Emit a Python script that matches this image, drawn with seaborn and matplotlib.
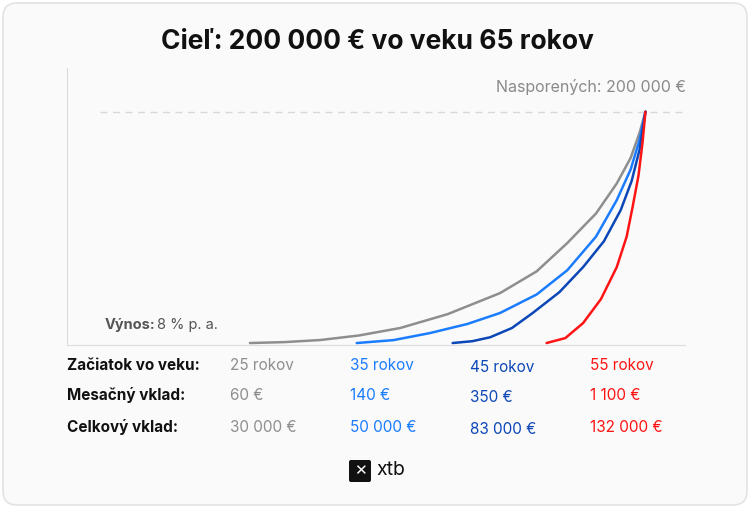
import matplotlib
matplotlib.use("Agg")
import matplotlib.pyplot as plt
from matplotlib.patches import FancyBboxPatch
import pandas as pd
import seaborn as sns

# values (thousand EUR saved by age)
gray_age = [25, 28.5, 32.1, 36, 40.2, 45, 50.3, 54, 57.1, 60, 62.1, 63.5, 64.4, 65]
gray_val = [0, 0.8, 2.6, 6.5, 13, 25, 43.2, 62, 86.5, 112, 138, 160, 181.6, 200]
lblue_age = [35.8, 39.5, 43.2, 47, 50.3, 54, 57.1, 60, 62.1, 63.5, 64.4, 65]
lblue_val = [0, 2.5, 8.6, 16.5, 26, 42, 63, 92, 123.6, 150, 175.5, 200]
dblue_age = [45.5, 47.5, 49.3, 51.5, 53.6, 56.3, 58.7, 60.8, 62.5, 63.6, 64.4, 65]
dblue_val = [0, 1.6, 5, 13, 26, 44, 65.7, 88, 115, 140, 167, 200]
red_age = [55, 56.9, 58.7, 60.5, 62.1, 63.1, 63.7, 64.3, 64.7, 65]
red_val = [0, 4.3, 17.3, 38, 65.7, 92, 117.6, 145, 173, 200]

colors = ["#8e8e8e", "#1a7cff", "#0c47b8", "#ff1414"]
row_labels = ["Začiatok vo veku:", "Mesačný vklad:", "Celkový vklad:"]
start_ages = ["25 rokov", "35 rokov", "45 rokov", "55 rokov"]
monthly = ["60 €", "140 €", "350 €", "1 100 €"]
total = ["30 000 €", "50 000 €", "83 000 €", "132 000 €"]

sns.set_style("white")
plt.rcParams["font.family"] = ["Inter", "DejaVu Sans"]

fig = plt.figure(figsize=(7.5, 5.08), dpi=100)
fig.patch.set_facecolor("white")
fig.patches.append(FancyBboxPatch((3, 3), 744, 502, boxstyle="round,pad=0,rounding_size=14",
                                  transform=None, facecolor="#fafafa", edgecolor="#e3e3e3",
                                  lw=1.2, zorder=-10))

ax = fig.add_axes([67 / 750, 163 / 508, 618 / 750, 277 / 508])
ax.set_facecolor("none")
series = [(gray_age, gray_val), (lblue_age, lblue_val), (dblue_age, dblue_val), (red_age, red_val)]
for (a, v), c in zip(series, colors):
    df = pd.DataFrame({"age": a, "value": v})
    sns.lineplot(data=df, x="age", y="value", color=c, lw=1.8, ax=ax)
ax.set_xlim(6.5, 69)
ax.set_ylim(-1.7, 237.8)
ax.axhline(200, xmin=(100 - 67) / 618, xmax=1, color="#d8d8d8", ls=(0, (5, 4)), lw=1, zorder=0)
ax.set_xticks([]); ax.set_yticks([])
ax.set_xlabel(""); ax.set_ylabel("")
for s in ["top", "right"]:
    ax.spines[s].set_visible(False)
for s in ["left", "bottom"]:
    ax.spines[s].set_color("#dcdcdc")

fig.text(377 / 750, 1 - 42 / 508, "Cieľ: 200 000 € vo veku 65 rokov", ha="center", va="center",
         fontsize=19, fontweight="bold", color="#111111")
fig.text(686 / 750, 1 - 87 / 508, "Nasporených: 200 000 €", ha="right", va="center",
         fontsize=11.5, color="#8a8a8a")
fig.text(105 / 750, 1 - 325 / 508, "Výnos:", ha="left", va="center", fontsize=10.5,
         fontweight="bold", color="#555555")
fig.text(157 / 750, 1 - 325 / 508, "8 % p. a.", ha="left", va="center", fontsize=10.5, color="#555555")

rows_y = [365, 395, 427]
cols_x = [230, 350, 470, 590]
for y, lab, vals in zip(rows_y, row_labels, [start_ages, monthly, total]):
    fig.text(67 / 750, 1 - y / 508, lab, ha="left", va="center", fontsize=11,
             fontweight="bold", color="#111111")
    for x, t, c in zip(cols_x, vals, colors):
        fig.text(x / 750, 1 - (y + (2 if c == colors[2] else 0)) / 508, t, ha="left", va="center",
                 fontsize=11, color=c)

# logo
fig.patches.append(FancyBboxPatch((349, 508 - 482), 22, 22, boxstyle="round,pad=0,rounding_size=2",
                                  transform=None, facecolor="#111111", edgecolor="none"))
fig.text(360 / 750, 1 - 471 / 508, "✕", ha="center", va="center", fontsize=11, color="white",
         fontweight="bold", family=["DejaVu Sans"])
fig.text(376 / 750, 1 - 470 / 508, "xtb", ha="left", va="center", fontsize=14,
         color="#111111")

fig.savefig("out.png", dpi=100)
